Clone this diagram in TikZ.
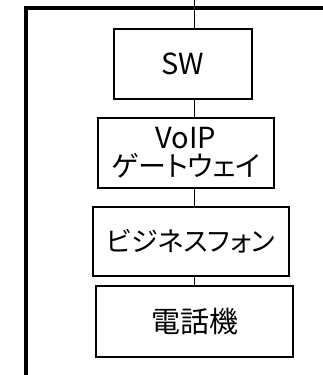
\documentclass[tikz,border=0pt]{standalone}
\usepackage{fontspec}
\newfontfamily\jp[RawFeature=+palt]{Noto Sans CJK JP}
\begin{document}
\begin{tikzpicture}[x=1pt,y=-1pt,
  box/.style={draw,line width=1.3pt,inner sep=0pt,font=\jp\fontsize{29}{31}\selectfont,align=center},
  conn/.style={line width=0.8pt}]
\useasboundingbox (0,0) rectangle (323,375);
\fill[white] (0,0) rectangle (323,375);
\draw[line width=4pt] (25.5,380) |- (330,8);
\node[box,minimum width=138pt,minimum height=70pt] (sw) at (183,64) {SW};
\node[box,minimum width=176pt,minimum height=70pt] (gw) at (186,153) {VoIP\\[-3pt]{\fontsize{28}{30}\selectfont ゲートウェイ}};
\node[box,line width=2pt,minimum width=196pt,minimum height=69pt,font=\jp\fontsize{27}{29}\selectfont] (bp) at (191,241.5) {ビジネスフォン};
\node[box,line width=1.5pt,minimum width=197pt,minimum height=71pt] (ph) at (194.5,321.5) {電話機};
\coordinate (top) at (194.5,0);
\draw[conn] (top) -- (top |- sw.north);
\draw[conn] (sw.south -| top) -- (gw.north -| top);
\draw[conn] (gw.south -| top) -- (bp.north -| top);
\draw[conn] (bp.south -| top) -- (ph.north -| top);
\end{tikzpicture}
\end{document}
